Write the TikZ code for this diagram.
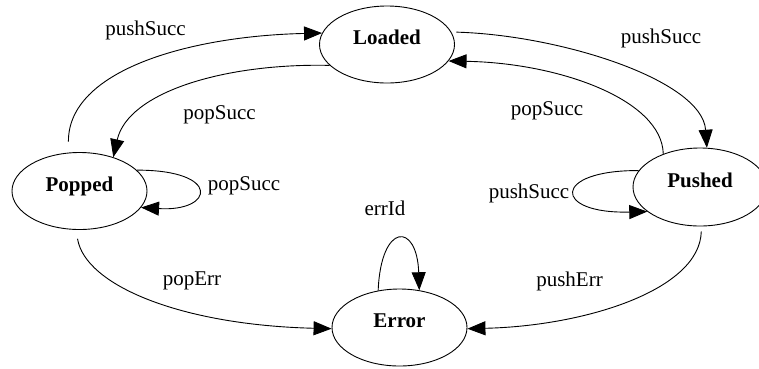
\documentclass[tikz,border=0pt]{standalone}
\usepackage{fontspec}
\setmainfont{Liberation Serif}
\usetikzlibrary{shapes.geometric,arrows.meta}
\tikzset{
  state/.style={ellipse, draw, line width=0.9pt, inner sep=0pt,
    minimum width=135pt, minimum height=77pt,
    font=\fontsize{21}{21}\selectfont\bfseries, text height=14pt, text depth=14pt},
  lbl/.style={anchor=base, inner sep=0pt, font=\fontsize{21}{21}\selectfont},
  edge/.style={line width=0.9pt, -{Triangle[length=18pt,width=14pt]}}
}
\begin{document}
\begin{tikzpicture}[x=1pt,y=-1pt]
\useasboundingbox (0,0) rectangle (759,368);
\node[state] (loaded) at (387,44.5) {Loaded};
\node[state] (popped) at (79.5,191) {Popped};
\node[state, minimum width=134pt, minimum height=78pt] (pushed) at (700,187) {Pushed};
\node[state] (error) at (399.5,327.5) {Error};

\node[lbl] (l1) at (145.5,35) {pushSucc};
\node[lbl] (l2) at (219.5,119) {popSucc};
\node[lbl] (l3) at (661,43) {pushSucc};
\node[lbl] (l4) at (547,115) {popSucc};
\node[lbl] (l5) at (244,190) {popSucc};
\node[lbl] (l6) at (529,198) {pushSucc};
\node[lbl] (l7) at (385,215) {errId};
\node[lbl] (l8) at (192,285) {popErr};
\node[lbl] (l9) at (569.5,286) {pushErr};

\draw[edge, shorten <=11pt] (popped.106) .. controls (68,70) and (190,36) .. (loaded.170);
\draw[edge] (loaded.200) .. controls (225,63) and (128,92) .. (popped.45);
\draw[edge, shorten <=5pt] (loaded.11) .. controls (560,35) and (702,80) .. (pushed.80);
\draw[edge] (pushed.138) .. controls (662,100) and (560,63) .. (loaded.345);
\draw[edge] (popped.20) .. controls (222,170) and (214,212) .. (popped.345);
\draw[edge] (pushed.165) .. controls (552,170) and (552,214) .. (pushed.205);
\draw[edge] (error.120) .. controls (381,222) and (417,222) .. (error.62);
\draw[edge, shorten <=9pt] (popped.265) .. controls (85,285) and (180,325) .. (error.181);
\draw[edge, shorten <=5pt] (pushed.272) .. controls (700,290) and (585,326) .. (error.359);
\end{tikzpicture}
\end{document}
